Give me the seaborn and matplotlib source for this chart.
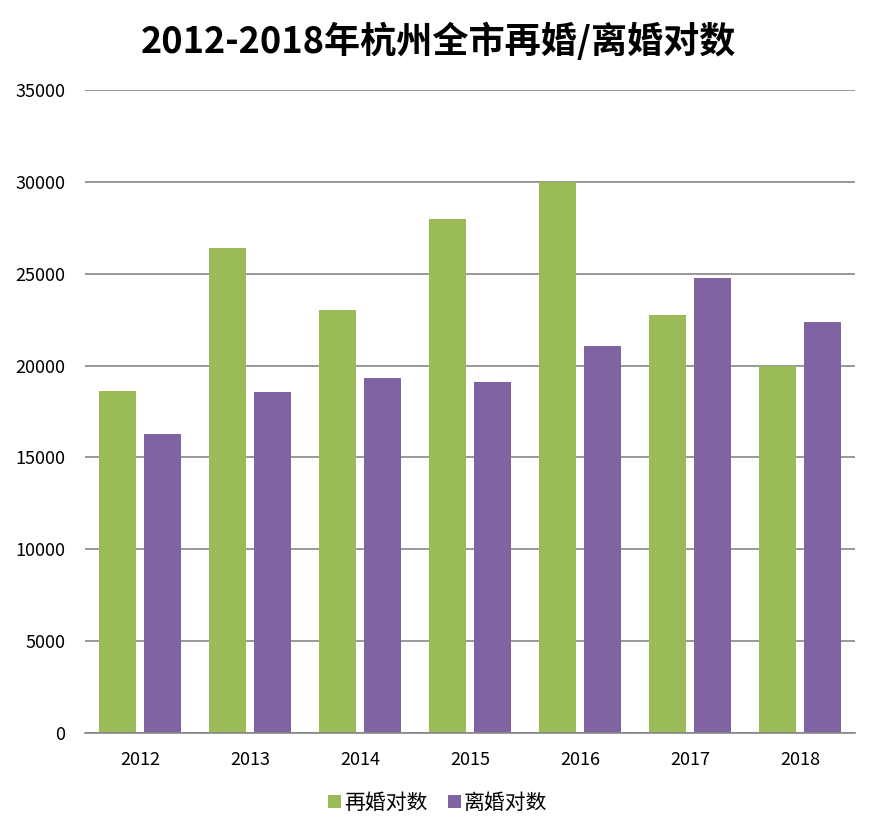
import matplotlib
matplotlib.use("Agg")
import matplotlib.pyplot as plt
import seaborn as sns
import pandas as pd
from matplotlib.patches import Patch

years = ["2012", "2013", "2014", "2015", "2016", "2017", "2018"]
remarriage = [18600, 26380, 23000, 28000, 30000, 22730, 20000]
divorce = [16260, 18550, 19310, 19090, 21040, 24740, 22350]
series_names = ["再婚对数", "离婚对数"]
yticks = [0, 5000, 10000, 15000, 20000, 25000, 30000, 35000]
colors = ["#9BBB59", "#8064A2"]

sns.set_theme(style="white")
plt.rcParams['font.family'] = ['Noto Sans CJK SC', 'DejaVu Sans']
plt.rcParams['text.color'] = 'black'

df = pd.DataFrame({
    "year": years * 2,
    "value": remarriage + divorce,
    "series": [series_names[0]] * len(years) + [series_names[1]] * len(years),
})

fig = plt.figure(figsize=(8.76, 8.36), dpi=100)
ax = fig.add_axes([85 / 876, 1 - 733 / 836, 770 / 876, (733 - 90) / 836])

sns.barplot(data=df, x="year", y="value", hue="series", order=years,
            hue_order=series_names, palette=colors,
            width=0.82, gap=0.195, saturation=1, ax=ax, legend=False,
            errorbar=None, linewidth=0, edgecolor="none")

ax.set_ylim(0, 35000)
ax.set_xlim(-0.5, len(years) - 0.5)
ax.set_yticks(yticks)
ax.set_yticklabels([str(v) for v in yticks])
ax.yaxis.grid(True, color="#868686", linewidth=1.2)
ax.set_axisbelow(True)
for s in ["left", "right", "top"]:
    ax.spines[s].set_visible(False)
ax.spines["bottom"].set_color("#868686")
ax.spines["bottom"].set_linewidth(1.2)
ax.tick_params(axis="both", length=0, labelsize=13, colors="#000000")
ax.tick_params(axis="y", pad=14)
ax.tick_params(axis="x", pad=13)
ax.set_xlabel("")
ax.set_ylabel("")

fig.text(0.5, 1 - 42 / 836, "2012-2018年杭州全市再婚/离婚对数", ha="center", va="center",
         fontsize=26, fontweight="bold", color="black")

handles = [Patch(facecolor=c, edgecolor="none") for c in colors]
fig.legend(handles, series_names, loc="center", bbox_to_anchor=(0.5, 1 - 803 / 836),
           ncol=2, frameon=False, fontsize=15, handlelength=0.6, handleheight=0.6,
           handletextpad=0.15, columnspacing=1.0)

fig.savefig("out.png", dpi=100)
